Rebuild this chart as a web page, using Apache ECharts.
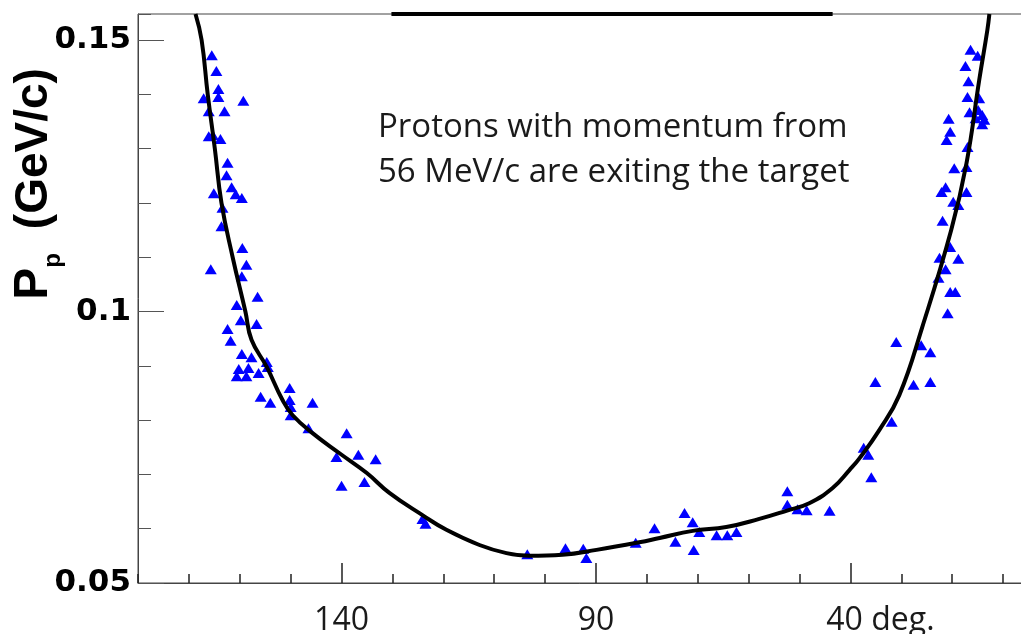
<!DOCTYPE html>
<html>
<head>
<meta charset="utf-8">
<title>Proton momentum vs angle</title>
<script src="https://cdn.jsdelivr.net/npm/echarts@6/dist/echarts.min.js"></script>
<style>
  html, body { margin: 0; padding: 0; background: #fff; }
  #chart { width: 1021px; height: 634px; }
</style>
</head>
<body>
<div id="chart"></div>
<script>
// measured points, angle in degrees, momentum in GeV/c
const leftAngle = [165.5, 164.6, 164.2, 164.2, 167.1, 159.3, 166.1, 163.0, 166.1, 165.3, 163.8, 162.4, 162.6,
  161.6, 165.1, 160.8, 159.6, 163.4, 163.6, 159.5, 158.7, 165.7, 159.6, 156.5, 160.6, 159.8, 156.7, 162.4,
  161.8, 159.6, 157.7, 154.7, 160.2, 158.3, 154.5, 160.6, 158.7, 156.3, 150.2, 155.9, 154.0, 150.2, 150.0,
  145.7, 150.0, 146.5, 139.0, 141.0, 136.7, 133.3, 135.5, 140.0]
const leftP = [0.1472, 0.1443, 0.1410, 0.1395, 0.1393, 0.1388, 0.1369, 0.1369, 0.1323, 0.1325, 0.1318, 0.1274, 0.1251,
  0.1229, 0.1218, 0.1216, 0.1209, 0.1191, 0.1157, 0.1117, 0.1086, 0.1078, 0.1065, 0.1027, 0.1012, 0.0984, 0.0977, 0.0968,
  0.0946, 0.0922, 0.0916, 0.0907, 0.0894, 0.0896, 0.0898, 0.0881, 0.0881, 0.0887, 0.0859, 0.0843, 0.0832, 0.0837, 0.0824,
  0.0832, 0.0809, 0.0785, 0.0776, 0.0732, 0.0736, 0.0728, 0.0686, 0.0679]

const bottomAngle = [124.1, 123.5, 103.5, 96.0, 92.5, 91.9, 82.2, 78.5, 74.4, 72.6, 71.0, 69.7, 70.8,
  66.3, 64.2, 62.4, 52.4, 52.4, 50.4, 48.6, 44.1]
const bottomP = [0.0618, 0.0609, 0.0553, 0.0564, 0.0563, 0.0546, 0.0574, 0.0601, 0.0576, 0.0629, 0.0612, 0.0594, 0.0561,
  0.0588, 0.0588, 0.0594, 0.0669, 0.0644, 0.0636, 0.0634, 0.0633]

const rightAngle = [37.4, 36.5, 35.9, 35.1, 31.9, 31.0, 27.6, 26.1, 24.3, 24.3, 16.4, 15.0, 17.4, 16.8,
  17.0, 14.7, 16.6, 14.9, 14.1, 14.1, 13.7, 15.4, 20.7, 20.4, 21.1, 17.0, 19.6, 17.2, 21.3, 22.1, 17.2,
  19.8, 18.8, 21.9, 20.4, 22.5, 18.8, 21.3, 22.7, 20.4, 19.4, 20.9]
const rightP = [0.0749, 0.0736, 0.0695, 0.0870, 0.0797, 0.0944, 0.0865, 0.0938, 0.0925, 0.0870, 0.1482, 0.1471, 0.1452, 0.1424,
  0.1395, 0.1393, 0.1367, 0.1371, 0.1362, 0.1345, 0.1353, 0.1356, 0.1355, 0.1331, 0.1316, 0.1303, 0.1264, 0.1266, 0.1229, 0.1220, 0.1220,
  0.1202, 0.1196, 0.1167, 0.1119, 0.1099, 0.1097, 0.1078, 0.1062, 0.1036, 0.1036, 0.0997]

// fitted curve
const curveAngle = [168.7, 167.5, 166.3, 164.9, 163.6, 161.4, 158.9, 157.7, 154.7, 151.6, 149.6, 145.7, 140.4, 135.1,
  130.6, 124.1, 119.4, 112.9, 107.6, 103.1, 96.6, 89.9, 81.5, 77.5, 71.0, 64.4, 57.9, 52.6, 48.1, 43.5, 40.2,
  38.2, 34.3, 30.4, 25.9, 20.2, 17.2, 14.7, 13.1, 12.7]
const curveP = [0.1548, 0.15, 0.14, 0.13, 0.12, 0.11, 0.10, 0.0948, 0.0898, 0.0837, 0.0809, 0.0776, 0.0739, 0.0703,
  0.0666, 0.0625, 0.0598, 0.0570, 0.0555, 0.0550, 0.0552, 0.0561, 0.0575, 0.0583, 0.0596, 0.0603, 0.0618, 0.0633, 0.0647, 0.0675, 0.0708,
  0.0730, 0.0782, 0.0846, 0.0971, 0.1150, 0.1273, 0.1426, 0.1518, 0.1548]

// thick bar along the top frame
const topBarAngle = [130.2, 43.5]

const xTickLabels = [140, 90, 40]
const yTickLabels = [0.05, 0.1, 0.15]
const xMin = 0, xMax = 180
const yMin = 0.05, yMax = 0.1548

function zip(a, b) {
  return a.map((v, i) => [v, b[i]])
}

const points = zip(leftAngle, leftP).concat(zip(bottomAngle, bottomP), zip(rightAngle, rightP))

const chart = echarts.init(document.getElementById('chart'))

const axisColor = '#444'

chart.setOption({
  animation: false,
  grid: {
    left: 138,
    top: 14,
    width: 916,   // runs past the right edge of the canvas
    bottom: 51,
    outerBoundsMode: 'none',
    show: true,
    borderColor: axisColor,
    borderWidth: 1
  },
  xAxis: [
    {
      // long ticks + labels
      type: 'value',
      min: xMin,
      max: xMax,
      inverse: true,
      position: 'bottom',
      splitLine: { show: false },
      axisLine: { onZero: false, lineStyle: { color: axisColor, width: 1 } },
      axisTick: {
        inside: true,
        length: 20,
        customValues: xTickLabels,
        lineStyle: { color: '#222', width: 1.5 }
      },
      axisLabel: {
        customValues: xTickLabels,
        margin: 22,
        color: '#1a1a1a',
        fontFamily: 'Open Sans',
        fontSize: 32,
        formatter: function (v) {
          return v === 40 ? '{d|40 deg.}' : String(v)
        },
        rich: {
          d: { fontFamily: 'Open Sans', fontSize: 32, color: '#1a1a1a', padding: [0, 0, 0, 60] }
        }
      }
    },
    {
      // short ticks every 10 deg
      type: 'value',
      min: xMin,
      max: xMax,
      inverse: true,
      position: 'bottom',
      interval: 10,
      splitLine: { show: false },
      axisLine: { show: false, onZero: false },
      axisTick: { inside: true, length: 9, lineStyle: { color: '#222', width: 1.5 } },
      axisLabel: { show: false }
    }
  ],
  yAxis: [
    {
      type: 'value',
      min: yMin,
      max: yMax,
      position: 'left',
      splitLine: { show: false },
      axisLine: { show: true, onZero: false, lineStyle: { color: axisColor, width: 1 } },
      axisTick: {
        show: true,
        inside: true,
        length: 26,
        customValues: yTickLabels,
        lineStyle: { color: '#555', width: 1 }
      },
      axisLabel: {
        customValues: yTickLabels,
        margin: 7,
        color: '#000',
        fontFamily: 'DejaVu Sans',
        fontWeight: 'bold',
        fontSize: 31,
        padding: [10, 0, 0, 0]
      }
    },
    {
      // short ticks every 0.01
      type: 'value',
      min: yMin,
      max: yMax,
      position: 'left',
      offset: 0,
      interval: 0.01,
      splitLine: { show: false },
      axisLine: { show: false, onZero: false },
      axisTick: { show: true, inside: true, length: 13, lineStyle: { color: '#555', width: 1 } },
      axisLabel: { show: false }
    }
  ],
  graphic: [
    {
      // axis title, rotated
      type: 'text',
      x: 34,
      y: 184,
      rotation: Math.PI / 2,
      style: {
        text: '{P|P}{s|p}{g|(GeV/c)}',
        align: 'center',
        verticalAlign: 'middle',
        fill: '#000',
        rich: {
          P: { fontFamily: 'Liberation Sans', fontWeight: 'bold', fontSize: 48, lineHeight: 62, verticalAlign: 'middle' },
          s: { fontFamily: 'Liberation Sans', fontWeight: 'bold', fontSize: 24, lineHeight: 24, verticalAlign: 'bottom' },
          g: { fontFamily: 'Liberation Sans', fontWeight: 'bold', fontSize: 46, lineHeight: 46, verticalAlign: 'middle', padding: [0, 0, 0, 24] }
        }
      }
    },
    {
      type: 'text',
      left: 378,
      top: 105,
      style: {
        text: 'Protons with momentum from\n56 MeV/c are exiting the target',
        fontFamily: 'Open Sans',
        fontSize: 33,
        lineHeight: 45,
        fill: '#1a1a1a'
      }
    }
  ],
  series: [
    {
      type: 'scatter',
      data: points,
      symbol: 'triangle',
      symbolSize: [12, 10],
      itemStyle: { color: '#0000ff', opacity: 1 },
      z: 2
    },
    {
      type: 'line',
      data: zip(curveAngle, curveP),
      smooth: 0.45,
      showSymbol: false,
      lineStyle: { color: '#000', width: 4 },
      z: 3
    },
    {
      type: 'line',
      data: topBarAngle.map(a => [a, yMax]),
      showSymbol: false,
      clip: false,
      lineStyle: { color: '#000', width: 4 },
      z: 4
    }
  ]
})
</script>
</body>
</html>
